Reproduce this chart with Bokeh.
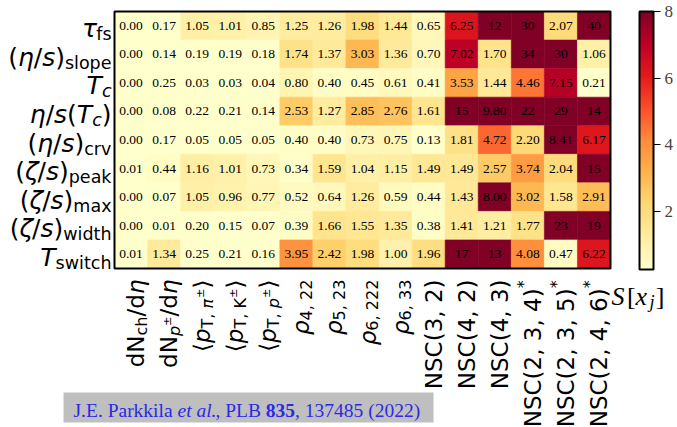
import math
from bokeh.plotting import figure
from bokeh.models import ColumnDataSource, LinearColorMapper, ColorBar, FixedTicker, Range1d
from bokeh.core.properties import value
from bokeh.embed import file_html
from bokeh.resources import INLINE
from bokeh.palettes import YlOrRd9

# ---------------- data ----------------
observables = ["dNch/deta", "dNp/deta", "<pT,pi>", "<pT,K>", "<pT,p>",
               "rho4,22", "rho5,23", "rho6,222", "rho6,33",
               "NSC(3,2)", "NSC(4,2)", "NSC(4,3)", "NSC(2,3,4)*", "NSC(2,3,5)*", "NSC(2,4,6)*"]
parameters = ["tau_fs", "eta_s_slope", "T_c", "eta_s_Tc", "eta_s_crv",
              "zeta_s_peak", "zeta_s_max", "zeta_s_width", "T_switch"]

tau_fs       = [0.00, 0.17, 1.05, 1.01, 0.85, 1.25, 1.26, 1.98, 1.44, 0.65, 6.25, 12, 30, 2.07, 40]
eta_s_slope  = [0.00, 0.14, 0.19, 0.19, 0.18, 1.74, 1.37, 3.03, 1.36, 0.70, 7.02, 1.70, 34, 30, 1.06]
T_c          = [0.00, 0.25, 0.03, 0.03, 0.04, 0.80, 0.40, 0.45, 0.61, 0.41, 3.53, 1.44, 4.46, 7.15, 0.21]
eta_s_Tc     = [0.00, 0.08, 0.22, 0.21, 0.14, 2.53, 1.27, 2.85, 2.76, 1.61, 15, 9.80, 22, 29, 14]
eta_s_crv    = [0.00, 0.17, 0.05, 0.05, 0.05, 0.40, 0.40, 0.73, 0.75, 0.13, 1.81, 4.72, 2.20, 8.41, 6.17]
zeta_s_peak  = [0.01, 0.44, 1.16, 1.01, 0.73, 0.34, 1.59, 1.04, 1.15, 1.49, 1.49, 2.57, 3.74, 2.04, 15]
zeta_s_max   = [0.00, 0.07, 1.05, 0.96, 0.77, 0.52, 0.64, 1.26, 0.59, 0.44, 1.43, 8.00, 3.02, 1.58, 2.91]
zeta_s_width = [0.00, 0.01, 0.20, 0.15, 0.07, 0.39, 1.66, 1.55, 1.35, 0.38, 1.41, 1.21, 1.77, 23, 19]
T_switch     = [0.01, 1.34, 0.25, 0.21, 0.16, 3.95, 2.42, 1.98, 1.00, 1.96, 17, 13, 4.08, 0.47, 6.22]

rows = [tau_fs, eta_s_slope, T_c, eta_s_Tc, eta_s_crv, zeta_s_peak, zeta_s_max, zeta_s_width, T_switch]

colorbar_ticks = [2, 4, 6, 8]
color_low, color_high = 0.25, 8.0

# tick label markup: (text, style, level) ; level 0 main, 1 subscript, 2 sup of subscript, 3 superscript
row_labels = [
    [("τ", "i", 0), ("fs", "n", 1)],
    [("(", "n", 0), ("η", "i", 0), ("/", "n", 0), ("s", "i", 0), (")", "n", 0), ("slope", "n", 1)],
    [("T", "i", 0), ("c", "i", 1)],
    [("η", "i", 0), ("/", "n", 0), ("s", "i", 0), ("(", "n", 0), ("T", "i", 0), ("c", "i", 1), (")", "n", 0)],
    [("(", "n", 0), ("η", "i", 0), ("/", "n", 0), ("s", "i", 0), (")", "n", 0), ("crv", "n", 1)],
    [("(", "n", 0), ("ζ", "i", 0), ("/", "n", 0), ("s", "i", 0), (")", "n", 0), ("peak", "n", 1)],
    [("(", "n", 0), ("ζ", "i", 0), ("/", "n", 0), ("s", "i", 0), (")", "n", 0), ("max", "n", 1)],
    [("(", "n", 0), ("ζ", "i", 0), ("/", "n", 0), ("s", "i", 0), (")", "n", 0), ("width", "n", 1)],
    [("T", "i", 0), ("switch", "n", 1)],
]
col_labels = [
    [("dN", "n", 0), ("ch", "n", 1), ("/d", "n", 0), ("η", "i", 0)],
    [("dN", "n", 0), ("p", "i", 1), ("±", "n", 2), ("/d", "n", 0), ("η", "i", 0)],
    [("⟨", "n", 0), ("p", "i", 0), ("T, ", "n", 1), ("π", "i", 1), ("±", "n", 2), ("⟩", "n", 0)],
    [("⟨", "n", 0), ("p", "i", 0), ("T, K", "n", 1), ("±", "n", 2), ("⟩", "n", 0)],
    [("⟨", "n", 0), ("p", "i", 0), ("T, ", "n", 1), ("p", "i", 1), ("±", "n", 2), ("⟩", "n", 0)],
    [("ρ", "i", 0), ("4, 22", "n", 1)],
    [("ρ", "i", 0), ("5, 23", "n", 1)],
    [("ρ", "i", 0), ("6, 222", "n", 1)],
    [("ρ", "i", 0), ("6, 33", "n", 1)],
    [("NSC(3, 2)", "n", 0)],
    [("NSC(4, 2)", "n", 0)],
    [("NSC(4, 3)", "n", 0)],
    [("NSC(2, 3, 4)", "n", 0), ("*", "n", 3)],
    [("NSC(2, 3, 5)", "n", 0), ("*", "n", 3)],
    [("NSC(2, 4, 6)", "n", 0), ("*", "n", 3)],
]
cbar_label = [("S", "i", 0), ("[", "n", 0), ("x", "i", 0), ("j", "i", 1), ("]", "n", 0)]
citation = [("J.E. Parkkila ", "normal"), ("et al.", "italic"), (", PLB ", "normal"),
            ("835", "bold"), (", 137485 (2022)", "normal")]

# ---------------- layout ----------------
W_FIG, H_FIG = 677, 427
FL, FR, FT, FB = 114, 610, 11, 268          # heatmap frame in canvas px
ncol, nrow = len(observables), len(parameters)
colw = (FR - FL) / ncol
rowh = (FB - FT) / nrow

def px2x(px):
    return (px - FL) / colw

def px2y(py):
    return (FB - py) / rowh

p = figure(width=W_FIG, height=H_FIG, output_backend="svg", toolbar_location=None,
           x_range=Range1d(px2x(0), px2x(W_FIG)), y_range=Range1d(px2y(H_FIG), px2y(0)),
           min_border=0)
p.axis.visible = False
p.grid.visible = False
p.outline_line_color = None
p.background_fill_color = "white"
p.border_fill_color = "white"

# palette (YlOrRd, light -> dark, interpolated)
def hex2rgb(h):
    return tuple(int(h[i:i + 2], 16) for i in (1, 3, 5))
base = [hex2rgb(c) for c in reversed(YlOrRd9)]
pal = []
N = 256
for k in range(N):
    t = k / (N - 1) * (len(base) - 1)
    i = min(int(t), len(base) - 2)
    f = t - i
    pal.append("#%02x%02x%02x" % tuple(round(base[i][j] * (1 - f) + base[i + 1][j] * f) for j in range(3)))

mapper = LinearColorMapper(palette=pal, low=color_low, high=color_high,
                           low_color=pal[0], high_color=pal[-1])

xs, ys, vs, txt = [], [], [], []
for r, row in enumerate(rows):
    for c, v in enumerate(row):
        xs.append(c + 0.5)
        ys.append(nrow - r - 0.5)
        vs.append(v)
        txt.append(f"{v:.0f}" if v >= 10 else f"{v:.2f}")
src = ColumnDataSource(dict(x=xs, y=ys, v=vs, t=txt))
p.rect(x="x", y="y", width=1, height=1, source=src,
       fill_color={"field": "v", "transform": mapper},
       line_color={"field": "v", "transform": mapper}, line_width=0.6)
p.text(x="x", y="y", text="t", source=src, text_align="center", text_baseline="middle",
       text_font=value("Liberation Serif"), text_font_size="13.5px", text_color="black")
p.rect(x=ncol / 2, y=nrow / 2, width=ncol, height=nrow, fill_color=None,
       line_color="black", line_width=2)

# ---------------- composed labels ----------------
SANS = {' ': 0.318, '(': 0.390, ')': 0.390, '/': 0.337, ',': 0.318, '.': 0.318, '*': 0.550,
        '±': 0.838, '⟨': 0.390, '⟩': 0.390, 'N': 0.748, 'S': 0.635, 'C': 0.698, 'T': 0.611,
        'K': 0.656, 'a': 0.613, 'c': 0.550, 'd': 0.635, 'e': 0.615, 'f': 0.352, 'h': 0.634,
        'i': 0.278, 'k': 0.579, 'l': 0.278, 'm': 0.974, 'o': 0.612, 'p': 0.635, 'r': 0.411,
        's': 0.521, 't': 0.392, 'w': 0.818, 'x': 0.592, 'η': 0.634, 'τ': 0.568, 'ζ': 0.507,
        'π': 0.652, 'ρ': 0.635}
for d in "0123456789":
    SANS[d] = 0.636
SERIF = {' ': 0.25, '.': 0.25, ',': 0.25, '(': 0.333, ')': 0.333, '[': 0.333, ']': 0.333,
         'J': 0.389, 'E': 0.611, 'P': 0.556, 'L': 0.611, 'B': 0.667, 'S': 0.556, 'a': 0.444,
         'e': 0.444, 'i': 0.278, 'j': 0.278, 'k': 0.5, 'l': 0.278, 'r': 0.333, 't': 0.278, 'x': 0.5}
for d in "0123456789":
    SERIF[d] = 0.5

def tw(s, size, table):
    return size * sum(table.get(ch, 0.6) for ch in s)

LEVEL = {0: (1.0, 0.0), 1: (0.7, 0.22), 2: (0.49, -0.08), 3: (0.7, -0.40)}
FROW = 25
FCOL = 23

lab = dict(x=[], y=[], text=[], xo=[], yo=[], size=[], style=[], angle=[])
def add(x, y, t, xo, yo, size, style, angle):
    lab["x"].append(x); lab["y"].append(y); lab["text"].append(t)
    lab["xo"].append(xo); lab["yo"].append(yo); lab["size"].append(f"{size:.1f}px")
    lab["style"].append(style); lab["angle"].append(angle)

for r, pieces in enumerate(row_labels):
    widths = [tw(t, FROW * LEVEL[l][0], SANS) for t, s, l in pieces]
    cur = -3 - sum(widths)
    for (t, s, l), w in zip(pieces, widths):
        add(0, nrow - r - 0.5, t, cur, 3 + LEVEL[l][1] * FROW, FROW * LEVEL[l][0],
            "italic" if s == "i" else "normal", 0)
        cur += w

for c, pieces in enumerate(col_labels):
    widths = [tw(t, FCOL * LEVEL[l][0], SANS) for t, s, l in pieces]
    Wt = sum(widths)
    cur = 0
    for (t, s, l), w in zip(pieces, widths):
        add(c + 0.5, 0, t, 5 + LEVEL[l][1] * FCOL, 11 + Wt - cur, FCOL * LEVEL[l][0],
            "italic" if s == "i" else "normal", math.pi / 2)
        cur += w

p.text(x="x", y="y", text="text", x_offset="xo", y_offset="yo", angle="angle",
       text_font_size="size", text_font_style="style", source=ColumnDataSource(lab),
       text_font=value("DejaVu Sans"), text_align="left", text_baseline="alphabetic",
       text_color="black")

# colour bar label S[x_j]
SL = 26
slab = dict(x=[], y=[], text=[], xo=[], size=[], style=[], yo=[])
cur = 0
for t, s, l in cbar_label:
    sz = SL * LEVEL[l][0]
    slab["x"].append(px2x(611)); slab["y"].append(px2y(296))
    slab["text"].append(t); slab["xo"].append(cur); slab["yo"].append(LEVEL[l][1] * SL)
    slab["size"].append(f"{sz:.1f}px"); slab["style"].append("italic" if s == "i" else "normal")
    cur += tw(t, sz, SERIF) + (1 if s == "i" else 0)
p.text(x="x", y="y", text="text", x_offset="xo", y_offset="yo", text_font_size="size",
       text_font_style="style", source=ColumnDataSource(slab), text_font=value("Liberation Serif"),
       text_align="left", text_baseline="alphabetic", text_color="black")

# citation box
p.rect(x=px2x((63 + 433) / 2), y=px2y((392 + 422) / 2), width=370, height=30,
       width_units="screen", height_units="screen", fill_color="#bfbfbf", line_color=None)
CS = 19.5
clab = dict(x=[], y=[], text=[], xo=[], style=[])
cur = 0
for t, s in citation:
    clab["x"].append(px2x(73)); clab["y"].append(px2y(410))
    clab["text"].append(t); clab["xo"].append(cur); clab["style"].append(s)
    cur += tw(t, CS, SERIF)
p.text(x="x", y="y", text="text", x_offset="xo", text_font_style="style",
       source=ColumnDataSource(clab), text_font=value("Liberation Serif"),
       text_font_size=f"{CS}px", text_align="left", text_baseline="alphabetic",
       text_color="#2a2ae6")

# colour bar
cb = ColorBar(color_mapper=mapper, ticker=FixedTicker(ticks=colorbar_ticks),
              width=14, height=FB - FT + 1, location=(639, H_FIG - FB - 1), padding=0, margin=0,
              bar_line_color="black", bar_line_width=2,
              major_tick_line_color="black", major_tick_in=0, major_tick_out=7,
              minor_tick_line_color=None,
              major_label_text_font="Liberation Serif", major_label_text_font_size="17px",
              label_standoff=4, background_fill_color=None, border_line_color=None)
p.add_layout(cb)

open("out.html", "w").write(file_html(p, INLINE))
